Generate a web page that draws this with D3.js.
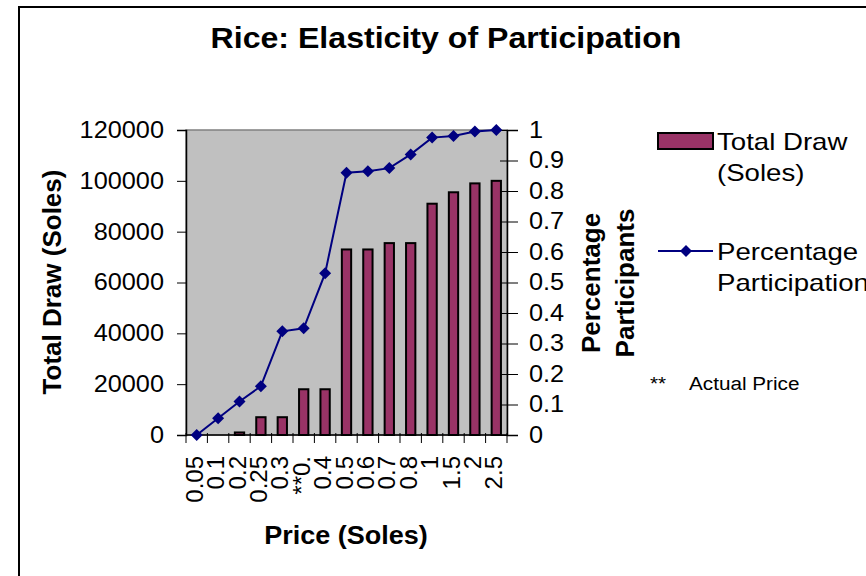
<!DOCTYPE html>
<html>
<head>
<meta charset="utf-8">
<script src="https://cdn.jsdelivr.net/npm/d3@7"></script>
<style>
  body { margin: 0; background: #fff; }
  text { font-family: "Liberation Sans", Arial, sans-serif; fill: #000; }
</style>
</head>
<body>
<div id="chart"></div>
<script>
// Datos
var prices = ["0.05", "0.1", "0.2", "0.25", "0.3", "**0.", "0.4", "0.5", "0.6", "0.7", "0.8", "1", "1.5", "2", "2.5"];
var totalDraw = [0, 0, 1000, 7000, 7000, 18000, 18000, 73000, 73000, 75500, 75500, 91000, 95500, 99000, 100000];
var participation = [0, 0.055, 0.11, 0.16, 0.34, 0.35, 0.53, 0.86, 0.865, 0.875, 0.92, 0.975, 0.98, 0.995, 1];
var leftTicks = [0, 20000, 40000, 60000, 80000, 100000, 120000];
var rightTicks = [0, 0.1, 0.2, 0.3, 0.4, 0.5, 0.6, 0.7, 0.8, 0.9, 1];

var width = 866;
var height = 576;

var svg = d3.select("#chart")
    .append("svg")
    .attr("width", width)
    .attr("height", height);

// estira el texto en horizontal, como en la imagen original
function stretch(sel, k) {
    sel.each(function () {
        var w = this.getComputedTextLength();
        d3.select(this).attr("textLength", w * k).attr("lengthAdjust", "spacingAndGlyphs");
    });
}

// Marco del gráfico
svg.append("rect")
    .attr("x", 19).attr("y", 7)
    .attr("width", 900).attr("height", 600)
    .attr("fill", "none")
    .attr("stroke", "#000")
    .attr("stroke-width", 2);

// Área de trazado
var plot = { left: 186, right: 507, top: 130, bottom: 435 };

var xScale = d3.scaleBand()
    .domain(prices)
    .range([plot.left, plot.right])
    .paddingInner(0.565)
    .paddingOuter(0.2825);

var xBand = d3.scaleBand()
    .domain(prices)
    .range([plot.left, plot.right]);

var yLeft = d3.scaleLinear().domain([0, 120000]).range([plot.bottom, plot.top]);
var yRight = d3.scaleLinear().domain([0, 1]).range([plot.bottom, plot.top]);

svg.append("rect")
    .attr("x", plot.left).attr("y", plot.top)
    .attr("width", plot.right - plot.left)
    .attr("height", plot.bottom - plot.top)
    .attr("fill", "#c0c0c0")
    .attr("stroke", "#808080")
    .attr("stroke-width", 1.5);

// Barras
svg.selectAll("rect.bar")
    .data(totalDraw)
    .enter()
    .append("rect")
    .attr("class", "bar")
    .attr("x", function (d, i) { return xScale(prices[i]); })
    .attr("y", function (d) { return yLeft(d); })
    .attr("width", xScale.bandwidth())
    .attr("height", function (d) { return plot.bottom - yLeft(d); })
    .attr("fill", "#993366")
    .attr("stroke", "#000")
    .attr("stroke-width", 2)
    .style("display", function (d) { return d > 0 ? null : "none"; });

// Eje izquierdo
var axL = svg.append("g")
    .attr("transform", "translate(" + plot.left + ",0)")
    .call(d3.axisLeft(yLeft).tickValues(leftTicks).tickSize(9).tickPadding(13).tickFormat(d3.format("d")));
axL.select(".domain").attr("stroke", "#000").attr("stroke-width", 1.5);
axL.selectAll("text").style("font-size", "23px").attr("font-family", "Liberation Sans");
stretch(axL.selectAll("text"), 1.1);

// Eje derecho
var axR = svg.append("g")
    .attr("transform", "translate(" + plot.right + ",0)")
    .call(d3.axisRight(yRight).tickValues(rightTicks).tickSize(11).tickPadding(11).tickFormat(function (d) { return String(+d.toFixed(1)); }));
axR.select(".domain").attr("stroke", "#000").attr("stroke-width", 1.5);
axR.selectAll(".tick line").attr("x1", -7);
axR.selectAll("text").style("font-size", "23px").attr("font-family", "Liberation Sans");
stretch(axR.selectAll("text"), 1.1);

// Eje inferior
var axB = svg.append("g")
    .attr("transform", "translate(0," + plot.bottom + ")");
axB.append("line")
    .attr("x1", plot.left).attr("x2", plot.right)
    .attr("stroke", "#000").attr("stroke-width", 1.5);
axB.selectAll("line.tk")
    .data(prices.concat(["_end"]))
    .enter()
    .append("line")
    .attr("class", "tk")
    .attr("x1", function (d, i) { return plot.left + i * xBand.step(); })
    .attr("x2", function (d, i) { return plot.left + i * xBand.step(); })
    .attr("y1", -2).attr("y2", 8)
    .attr("stroke", "#000");
axB.selectAll("text.lbl")
    .data(prices)
    .enter()
    .append("text")
    .attr("class", "lbl")
    .attr("transform", function (d) {
        return "translate(" + (xBand(d) + xBand.bandwidth() / 2 + 6) + ",21) rotate(-90)";
    })
    .style("text-anchor", "end")
    .style("font-size", "24px")
    .text(function (d) { return d; });

// Línea de participación
var line = d3.line()
    .x(function (d, i) { return xBand(prices[i]) + xBand.bandwidth() / 2; })
    .y(function (d) { return yRight(d); });

svg.append("path")
    .datum(participation)
    .attr("d", line)
    .attr("fill", "none")
    .attr("stroke", "#000080")
    .attr("stroke-width", 2);

var diamond = d3.symbol().type(d3.symbolSquare).size(72);
svg.selectAll("path.mk")
    .data(participation)
    .enter()
    .append("path")
    .attr("class", "mk")
    .attr("d", diamond)
    .attr("transform", function (d, i) {
        return "translate(" + (xBand(prices[i]) + xBand.bandwidth() / 2) + "," + yRight(d) + ") rotate(45)";
    })
    .attr("fill", "#000080");

// Títulos
var title = svg.append("text")
    .attr("x", 446).attr("y", 48)
    .style("text-anchor", "middle")
    .style("font-size", "30px")
    .style("font-weight", "bold")
    .text("Rice: Elasticity of Participation");
stretch(title, 1.07);

svg.append("text")
    .attr("transform", "translate(61,282) rotate(-90)")
    .style("text-anchor", "middle")
    .style("font-size", "26px")
    .style("font-weight", "bold")
    .text("Total Draw (Soles)");

svg.append("text")
    .attr("transform", "translate(600,283) rotate(-90)")
    .style("text-anchor", "middle")
    .style("font-size", "26px")
    .style("font-weight", "bold")
    .text("Percentage");

svg.append("text")
    .attr("transform", "translate(634,283) rotate(-90)")
    .style("text-anchor", "middle")
    .style("font-size", "26px")
    .style("font-weight", "bold")
    .text("Participants");

var xTitle = svg.append("text")
    .attr("x", 346).attr("y", 544)
    .style("text-anchor", "middle")
    .style("font-size", "25px")
    .style("font-weight", "bold")
    .text("Price (Soles)");
stretch(xTitle, 1.08);

// Leyenda
var lg = svg.append("g");
lg.append("rect")
    .attr("x", 658).attr("y", 133)
    .attr("width", 55).attr("height", 16)
    .attr("fill", "#993366")
    .attr("stroke", "#000")
    .attr("stroke-width", 2);
lg.append("text").attr("x", 717).attr("y", 150).text("Total Draw");
lg.append("text").attr("x", 717).attr("y", 181).text("(Soles)");

lg.append("line")
    .attr("x1", 658).attr("x2", 713)
    .attr("y1", 251).attr("y2", 251)
    .attr("stroke", "#000080").attr("stroke-width", 2);
lg.append("path")
    .attr("d", diamond)
    .attr("transform", "translate(686,251) rotate(45)")
    .attr("fill", "#000080");
lg.append("text").attr("x", 717).attr("y", 260).text("Percentage");
lg.append("text").attr("x", 717).attr("y", 291).text("Participation");
lg.selectAll("text").style("font-size", "24px");
stretch(lg.selectAll("text"), 1.15);

var note = svg.append("g");
note.append("text").attr("x", 650).attr("y", 390).text("**");
note.append("text").attr("x", 689).attr("y", 390).text("Actual Price");
note.selectAll("text").style("font-size", "18px");
stretch(note.selectAll("text"), 1.15);
</script>
</body>
</html>
